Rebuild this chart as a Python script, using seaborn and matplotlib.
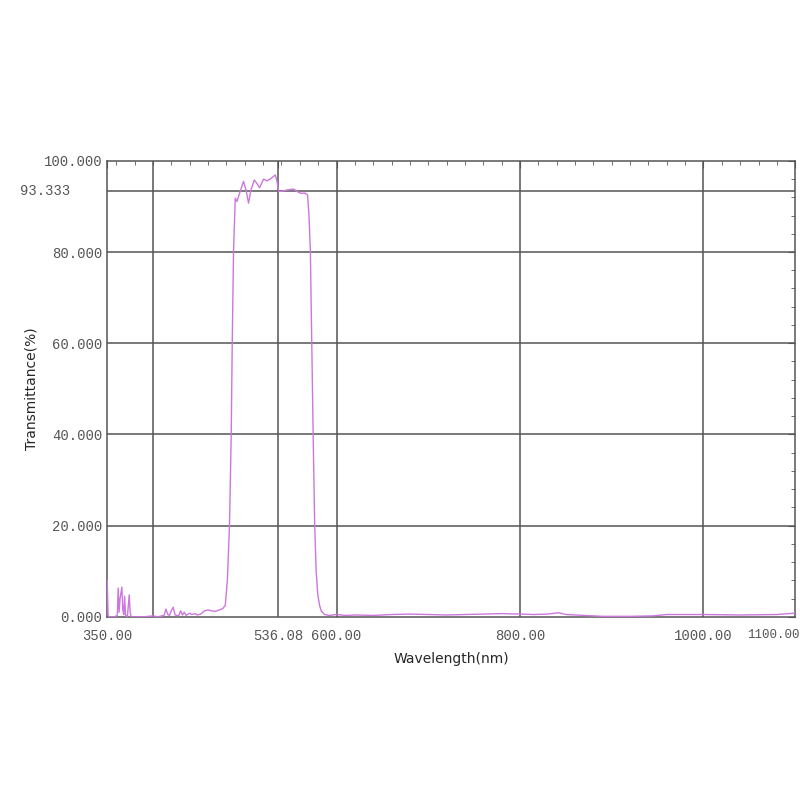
import matplotlib
matplotlib.use("Agg")
import matplotlib.pyplot as plt
import matplotlib.transforms as mtransforms
import seaborn as sns
import pandas as pd

# Spectrum
wavelength = [350, 351, 353, 358, 361, 362, 363, 364, 366, 367, 368, 369, 370, 372, 374, 375, 376,
              380, 390, 400, 405, 412, 414, 416, 418, 420, 422, 424, 428, 430, 432, 434, 436, 440,
              442, 446, 448, 452, 456, 460, 464, 468, 472, 476, 478.7, 481, 483.3, 485.2, 486.3,
              487.7, 489.6, 491.5, 493.2, 498.6, 501.3, 504.1, 506.7, 510.3, 513.3, 516.1, 520.5,
              524.2, 527.8, 531.4, 533.2, 535.1, 536.8, 540.5, 546, 553.2, 556.9, 560.5, 565.9,
              568.4, 570, 571.5, 573, 574.5, 576.2, 577.8, 579.5, 581.5, 583.5, 587, 592, 600, 610,
              620, 640, 660, 680, 700, 720, 740, 760, 780, 800, 815, 830, 842, 850, 870, 890, 920,
              945, 960, 1000, 1040, 1080, 1100]
transmittance = [8.0, 0.2, 0.0, 0.0, 0.3, 6.3, 1.0, 4.0, 6.5, 1.5, 0.5, 4.5, 0.3, 0.0, 4.8, 1.0, 0.0,
                 0.0, 0.0, 0.2, 0.0, 0.3, 1.7, 0.5, 0.3, 1.4, 2.1, 0.4, 0.2, 1.3, 0.4, 1.0, 0.3, 0.8,
                 0.5, 0.7, 0.4, 0.6, 1.3, 1.5, 1.3, 1.2, 1.5, 1.8, 2.5, 8.0, 20.0, 40.0, 60.0,
                 80.0, 91.8, 91.1, 92.2, 95.5, 93.6, 90.7, 93.6, 95.8, 95.0, 94.1, 96.0,
                 95.6, 96.0, 96.6, 96.9, 95.5, 93.3, 93.3, 93.6, 93.8, 93.3, 92.9, 92.9,
                 92.5, 88.0, 80.0, 60.0, 40.0, 20.0, 10.0, 5.0, 2.5, 1.2, 0.5, 0.3, 0.5, 0.3,
                 0.4, 0.3, 0.5, 0.6, 0.5, 0.4, 0.5, 0.6, 0.7, 0.6, 0.5, 0.6, 0.9, 0.5, 0.3, 0.1, 0.1,
                 0.2, 0.5, 0.5, 0.4, 0.5, 0.8]

xtick_vals = [350, 536.08, 600, 800, 1000, 1100]
xtick_labels = ["350.00", "536.08", "600.00", "800.00", "1000.00", "1100.00"]
ytick_vals = [0, 20, 40, 60, 80, 100]
ytick_labels = ["0.000", "20.000", "40.000", "60.000", "80.000", "100.000"]
vgrid = [400, 536.08, 600, 800, 1000]
hgrid = [20, 40, 60, 80, 93.333]

df = pd.DataFrame({"Wavelength": wavelength, "T": transmittance})

sns.set_style("white")
fig = plt.figure(figsize=(8, 8), dpi=100)
ax = fig.add_axes([0.134, 0.229, 0.860, 0.570])

for v in vgrid:
    ax.axvline(v, color="#555555", lw=1.1, zorder=1)
for h in hgrid:
    ax.axhline(h, color="#555555", lw=1.1, zorder=1)

sns.lineplot(data=df, x="Wavelength", y="T", color="#cc77dd", lw=1.0, ax=ax, zorder=3)

ax.set_xlim(350, 1100)
ax.set_ylim(0, 100)
ax.set_xticks(xtick_vals)
ax.set_xticklabels(xtick_labels)
ax.set_yticks(ytick_vals)
ax.set_yticklabels(ytick_labels)
ax.set_xticks(range(360, 1100, 20), minor=True)
ax.set_yticks(range(4, 100, 4), minor=True)
ax.tick_params(which="both", direction="in", top=True, right=True, color="#555555")
ax.tick_params(which="major", length=5, labelsize=10, labelcolor="#555555")
ax.tick_params(axis="x", which="major", pad=9)
ax.tick_params(which="minor", length=3)
for lab in ax.get_xticklabels() + ax.get_yticklabels():
    lab.set_family("Liberation Mono")
# last label sits at the right edge: smaller, right-aligned, nudged right so it stays whole
last = ax.get_xticklabels()[-1]
last.set_horizontalalignment("right")
last.set_fontsize(9)
last.set_transform(last.get_transform() + mtransforms.ScaledTranslation(3 / 72, 0, fig.dpi_scale_trans))

ax.text(-0.054, 93.333, "93.333", transform=ax.get_yaxis_transform(), ha="right", va="center",
        fontsize=10, color="#555555", family="Liberation Mono")

for s in ax.spines.values():
    s.set_color("#555555")
    s.set_linewidth(1.1)

ax.set_xlabel("Wavelength(nm)", fontsize=10, labelpad=6)
ax.set_ylabel("Transmittance(%)", fontsize=10, labelpad=4)

fig.savefig("out.png", dpi=100)
